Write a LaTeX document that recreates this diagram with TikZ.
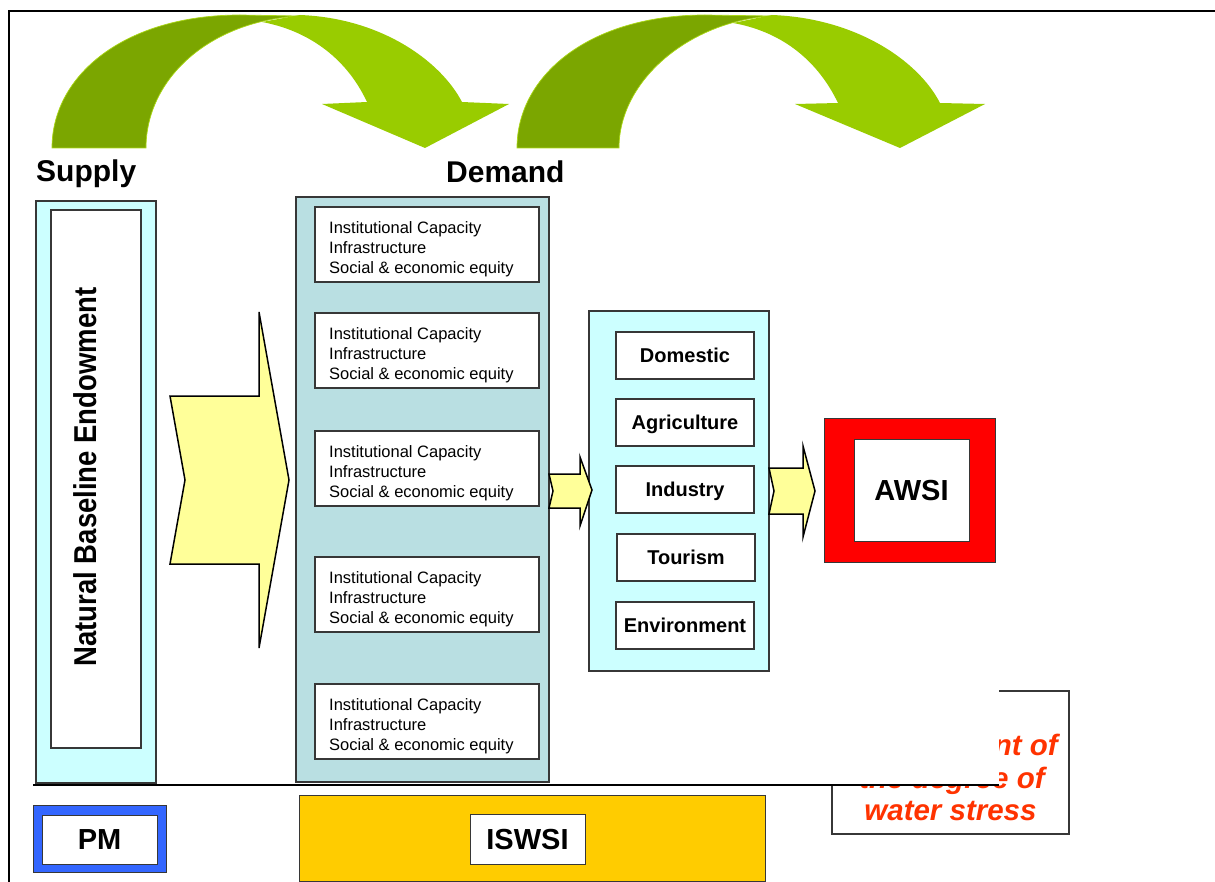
\documentclass[tikz,border=0pt]{standalone}
\usepackage{fontspec}
\setmainfont{Liberation Sans}
\usepackage{graphicx}
\definecolor{dkgreen}{RGB}{123,166,0}
\definecolor{ltgreen}{RGB}{153,204,0}
\definecolor{rimgreen}{RGB}{170,215,20}
\definecolor{paleyel}{RGB}{255,255,153}
\definecolor{palecyan}{RGB}{204,255,255}
\definecolor{demandbg}{RGB}{185,223,226}
\definecolor{awsired}{RGB}{255,0,0}
\definecolor{pmblue}{RGB}{51,102,255}
\definecolor{iswsigold}{RGB}{255,204,0}
\definecolor{stressred}{RGB}{255,51,0}
\definecolor{edgegray}{RGB}{55,55,55}
\tikzset{
  panel/.style={draw=edgegray, line width=1.5pt, inner sep=0pt, rectangle},
  whitebox/.style={panel, fill=white},
  sectorlbl/.style={whitebox, minimum width=138pt, minimum height=47pt,
    font=\fontsize{20}{24}\selectfont\bfseries, text height=14.3pt, text depth=0pt},
  bigbold/.style={font=\fontsize{29}{34}\selectfont\bfseries, text height=20.8pt, text depth=0pt},
  subbox/.style={whitebox, minimum width=224pt, minimum height=75pt},
  subtxt/.style={anchor=north west, align=left, inner sep=0pt,
    font=\fontsize{16.5}{20}\selectfont},
  blockarrow/.style={draw=black, fill=paleyel, line width=1.5pt, line join=miter},
  heading/.style={anchor=base west, inner sep=0pt, font=\fontsize{30}{36}\selectfont\bfseries},
  stresstxt/.style={inner sep=0pt, text=stressred, font=\fontsize{29.5}{33}\selectfont\bfseries\itshape},
  backband/.style={fill=dkgreen, draw=rimgreen, line width=0.7pt},
  frontband/.style={fill=ltgreen},
}
\begin{document}
\begin{tikzpicture}[x=1pt,y=-1pt]
\useasboundingbox (0,0) rectangle (1215,882);
% outer frame
\draw[line width=2pt] (9,882) -- (9,11) -- (1215,11);

% curved green arrows
\filldraw[backband] (52,148) .. controls (52,75) and (125,15) .. (240,15) -- (300,16)
  .. controls (208,21) and (146,80) .. (146,148) -- cycle;
\fill[frontband] (262,22) -- (300,15) .. controls (380,18) and (440,60) .. (462,102)
  -- (509,104) -- (425,148) -- (322,104) -- (367,102)
  .. controls (345,55) and (305,30) .. (262,22) -- cycle;
\filldraw[backband] (517,148) .. controls (517,75) and (590,15) .. (705,15) -- (772,16)
  .. controls (690,21) and (619,80) .. (619,148) -- cycle;
\fill[frontband] (733,23) -- (772,15) .. controls (855,18) and (918,60) .. (940,103)
  -- (985,104) -- (900,148) -- (795,104) -- (838,103)
  .. controls (816,57) and (778,31) .. (733,23) -- cycle;

% headings
\node[heading] (supply) at (36,182) {Supply};
\node[heading] (demand) at (446,183) {Demand};

% water stress text box (partly covered)
\node[whitebox, minimum width=237pt, minimum height=143pt] (tbox) at (950.5,762.5) {};
\node[stresstxt, anchor=base east] (st1) at (1058,755) {nt of};
\node[stresstxt, anchor=base] (st2) at (952,788) {the degree of};
\node[stresstxt, anchor=base] (st3) at (950.5,820) {water stress};
\fill[white] (800,655) rectangle (999,785);
\draw[line width=1.5pt] (33,785) -- (999,785);

% supply panel
\node[panel, fill=palecyan, minimum width=120pt, minimum height=582pt] (sup) at (96,492) {};
\node[whitebox, minimum width=90pt, minimum height=538pt] (supin) at (96,479) {};
\node[rotate=90, inner sep=0pt, font=\fontsize{27.5}{32}\selectfont\bfseries,
  text height=22.6pt, text depth=0pt] (nbe) at (85.5,477)
  {\scalebox{1}[1.15]{Natural Baseline Endowment}};

% demand panel
\node[panel, fill=demandbg, minimum width=253pt, minimum height=585pt] (dem) at (422.5,489.5) {};
\node[subbox] (d1) at (427,244.5) {};
\node[subbox] (d2) at (427,350.5) {};
\node[subbox] (d3) at (427,468.5) {};
\node[subbox] (d4) at (427,594.5) {};
\node[subbox] (d5) at (427,721.5) {};
\node[subtxt] (d1t) at (329,221.2) {Institutional Capacity\\Infrastructure\\Social \& economic equity};
\node[subtxt] (d2t) at (329,327.2) {Institutional Capacity\\Infrastructure\\Social \& economic equity};
\node[subtxt] (d3t) at (329,445.2) {Institutional Capacity\\Infrastructure\\Social \& economic equity};
\node[subtxt] (d4t) at (329,571.2) {Institutional Capacity\\Infrastructure\\Social \& economic equity};
\node[subtxt] (d5t) at (329,698.2) {Institutional Capacity\\Infrastructure\\Social \& economic equity};

% sector panel
\node[panel, fill=palecyan, minimum width=180pt, minimum height=360pt] (sec) at (679,491) {};
\node[sectorlbl] (dom) at (685,355.5) {Domestic};
\node[sectorlbl] (agr) at (685,422.5) {Agriculture};
\node[sectorlbl] (ind) at (685,489.5) {Industry};
\node[sectorlbl] (tou) at (686,557.5) {Tourism};
\node[sectorlbl] (env) at (685,625.5) {Environment};

% AWSI
\node[draw=edgegray, line width=1pt, fill=awsired, minimum width=171pt, minimum height=144pt] (awsiout) at (909.5,490) {};
\node[whitebox, line width=1pt, bigbold, minimum width=115pt, minimum height=102pt] (awsi) at (911.5,490) {AWSI};

% PM
\node[draw=edgegray, line width=1pt, fill=pmblue, minimum width=133pt, minimum height=67pt] (pmout) at (99.5,838.5) {};
\node[whitebox, line width=1pt, bigbold, minimum width=115pt, minimum height=49pt] (pm) at (99.5,839.5) {PM};

% ISWSI
\node[draw=edgegray, line width=1pt, fill=iswsigold, minimum width=466pt, minimum height=86pt] (iswsiout) at (532,838) {};
\node[whitebox, line width=1pt, bigbold, minimum width=115pt, minimum height=50pt] (iswsi) at (527.5,839) {ISWSI};

% yellow block arrows
\draw[blockarrow] (170,396) -- (259,396) -- (259,312) -- (289,480) -- (259,648)
  -- (259,564) -- (170,564) -- (185,480) -- cycle;
\draw[blockarrow] (549,474) -- (580,474) -- (580,457) -- (592,490) -- (580,526)
  -- (580,508) -- (549,508) -- (553,491) -- cycle;
\draw[blockarrow] (769,468) -- (803,468) -- (803,446) -- (815,491) -- (803,537)
  -- (803,514) -- (769,514) -- (774,491) -- cycle;
\end{tikzpicture}
\end{document}
